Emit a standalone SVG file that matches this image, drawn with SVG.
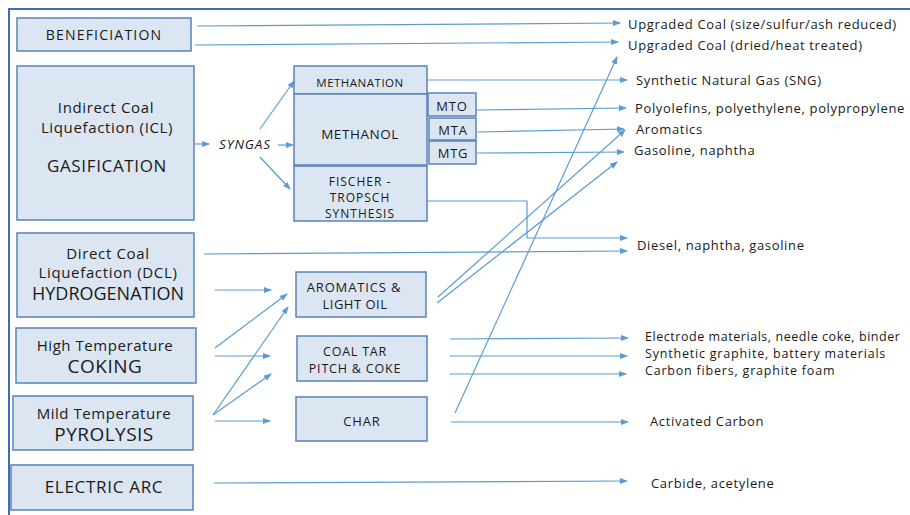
<svg xmlns="http://www.w3.org/2000/svg" width="910" height="515" viewBox="0 0 910 515">
<defs>
<marker id="ah" markerWidth="8" markerHeight="6" refX="7" refY="3" orient="auto" markerUnits="userSpaceOnUse">
<path d="M0,0 L8,3 L0,6 Z" fill="#5b9bd5"/>
</marker>
<style>
.box{fill:#dce6f2;stroke:#5a82b8;stroke-width:1.5}
.c{fill:none;stroke:#5b9bd5;stroke-width:1.2;marker-end:url(#ah)}
text{font-family:"Open Sans","Liberation Sans",sans-serif;fill:#1a1a1a}
.t{text-anchor:middle;dominant-baseline:central}
.o{font-size:13px;letter-spacing:0.65px;dominant-baseline:central}
.o.s{font-size:12.5px;letter-spacing:0.8px}
.o.e{font-size:12.5px;letter-spacing:0.55px}
</style>
</defs>
<rect width="910" height="515" fill="#ffffff"/>
<g id="frame" fill="none" stroke="#3b6cb4" stroke-width="2">
<path d="M9,515 L9,9 L910,9"/>
</g>
<g id="connectors">
<path class="c" d="M197,26 L620,23"/>
<path class="c" d="M195,45 L618,42"/>
<path class="c" d="M195,144 L209,144"/>
<path class="c" d="M278,145 L293,145"/>
<path class="c" d="M260,129 L294,81"/>
<path class="c" d="M260,157 L290,189"/>
<path class="c" d="M427,80 L627,80"/>
<path class="c" d="M476,110 L626,108"/>
<path class="c" d="M477,132 L624,129"/>
<path class="c" d="M477,153 L624,152"/>
<path class="c" d="M427,201 L527,201 L527,238 L627,238"/>
<path class="c" d="M204,254 L627,251"/>
<path class="c" d="M215,290 L271,290"/>
<path class="c" d="M215,348 L287,294"/>
<path class="c" d="M215,356 L270,356"/>
<path class="c" d="M213,415 L288,307"/>
<path class="c" d="M213,415 L271,374"/>
<path class="c" d="M215,421 L270,421"/>
<path class="c" d="M214,483 L627,481"/>
<path class="c" d="M438,297 L625,130"/>
<path class="c" d="M437,303 L617,162"/>
<path class="c" d="M455,413 L617,57"/>
<path class="c" d="M451,422 L628,422"/>
<path class="c" d="M450,339 L628,338"/>
<path class="c" d="M450,356 L627,356"/>
<path class="c" d="M450,374 L626,374"/>
</g>
<g id="beneficiation"><rect class="box" x="17" y="18" width="174" height="33"/><text class="t" x="104" y="34" font-size="14" letter-spacing="1.2">BENEFICIATION</text></g>
<g id="gasification"><rect class="box" x="17" y="66" width="177" height="154"/>
<text class="t" x="106" y="107" font-size="15" letter-spacing="0.65">Indirect Coal</text>
<text class="t" x="107" y="127" font-size="15" letter-spacing="0.65">Liquefaction (ICL)</text>
<text class="t" x="107" y="165" font-size="17" letter-spacing="0.65">GASIFICATION</text></g>
<g id="syngas"><text class="t" x="245" y="144" font-size="13.5" letter-spacing="0.9" font-style="italic">SYNGAS</text></g>
<g id="methanation"><rect class="box" x="294" y="66" width="133" height="28"/><text class="t" x="360" y="82" font-size="11.5" letter-spacing="0.5">METHANATION</text></g>
<g id="methanol"><rect class="box" x="294" y="94" width="133" height="71"/><text class="t" x="360" y="134" font-size="13.5" letter-spacing="0.55">METHANOL</text></g>
<g id="fischer-tropsch"><rect class="box" x="294" y="166" width="133" height="55"/>
<text class="t" x="360" y="181" font-size="12" letter-spacing="1">FISCHER -</text>
<text class="t" x="360" y="197" font-size="12" letter-spacing="1">TROPSCH</text>
<text class="t" x="360" y="213" font-size="12" letter-spacing="1">SYNTHESIS</text></g>
<g id="mto"><rect class="box" x="428" y="93" width="48" height="23"/><text class="t" x="452" y="106" font-size="13" letter-spacing="0.8">MTO</text></g>
<g id="mta"><rect class="box" x="429" y="118" width="47" height="22"/><text class="t" x="453" y="130" font-size="13" letter-spacing="0.8">MTA</text></g>
<g id="mtg"><rect class="box" x="429" y="141" width="47" height="23"/><text class="t" x="453" y="153" font-size="13" letter-spacing="0.8">MTG</text></g>
<g id="dcl"><rect class="box" x="17" y="233" width="177" height="84"/>
<text class="t" x="108" y="253" font-size="15" letter-spacing="0.65">Direct Coal</text>
<text class="t" x="108" y="272" font-size="15" letter-spacing="0.65">Liquefaction (DCL)</text>
<text class="t" x="108" y="293" font-size="18">HYDROGENATION</text></g>
<g id="coking"><rect class="box" x="16" y="328" width="180" height="55"/>
<text class="t" x="105" y="345" font-size="15" letter-spacing="0.55">High Temperature</text>
<text class="t" x="105" y="366" font-size="19" letter-spacing="0.5">COKING</text></g>
<g id="pyrolysis"><rect class="box" x="13" y="396" width="180" height="54"/>
<text class="t" x="104" y="413" font-size="15" letter-spacing="0.55">Mild Temperature</text>
<text class="t" x="104" y="434" font-size="19" letter-spacing="0.45">PYROLYSIS</text></g>
<g id="electric-arc"><rect class="box" x="11" y="465" width="182" height="45"/>
<text class="t" x="104" y="486" font-size="17" letter-spacing="0.7">ELECTRIC ARC</text></g>
<g id="aromatics-light-oil"><rect class="box" x="296" y="272" width="130" height="45"/>
<text class="t" x="354" y="287" font-size="13" letter-spacing="0.85">AROMATICS &amp;</text>
<text class="t" x="355" y="304" font-size="13" letter-spacing="0.5">LIGHT OIL</text></g>
<g id="coal-tar"><rect class="box" x="297" y="336" width="130" height="45"/>
<text class="t" x="355" y="351" font-size="12.5" letter-spacing="0.75">COAL TAR</text>
<text class="t" x="355" y="368.5" font-size="12.5" letter-spacing="0.8">PITCH &amp; COKE</text></g>
<g id="char"><rect class="box" x="296" y="397" width="131" height="44"/>
<text class="t" x="362" y="421" font-size="13" letter-spacing="0.85">CHAR</text></g>
<g id="outputs">
<text class="o" x="628" y="24">Upgraded Coal (size/sulfur/ash reduced)</text>
<text class="o" x="628" y="45">Upgraded Coal (dried/heat treated)</text>
<text class="o" x="636" y="80">Synthetic Natural Gas (SNG)</text>
<text class="o" x="635" y="108">Polyolefins, polyethylene, polypropylene</text>
<text class="o" x="636" y="129">Aromatics</text>
<text class="o" x="634" y="150">Gasoline, naphtha</text>
<text class="o" x="637" y="245">Diesel, naphtha, gasoline</text>
<text class="o e" x="645" y="336">Electrode materials, needle coke, binder</text>
<text class="o s" x="645" y="353.5">Synthetic graphite, battery materials</text>
<text class="o s" x="645" y="370.5">Carbon fibers, graphite foam</text>
<text class="o" x="650" y="421">Activated Carbon</text>
<text class="o" x="651" y="483">Carbide, acetylene</text>
</g>
</svg>
